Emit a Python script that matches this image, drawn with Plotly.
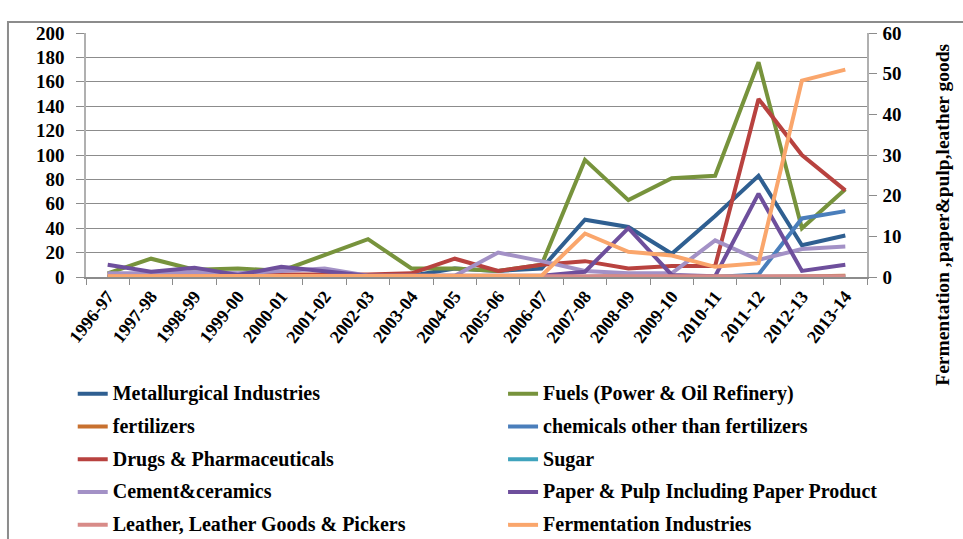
import plotly.graph_objects as go

# Financial years on the category axis
years = ["1996-97", "1997-98", "1998-99", "1999-00", "2000-01", "2001-02",
         "2002-03", "2003-04", "2004-05", "2005-06", "2006-07", "2007-08",
         "2008-09", "2009-10", "2010-11", "2011-12", "2012-13", "2013-14"]

# Industries plotted against the left axis
metallurgical = [1, 1, 1, 0.5, 1, 1, 1, 1, 7, 5, 7, 47, 41, 19, 50, 83, 26, 34]
fuels = [3, 15, 6, 7, 5, 18, 31, 7, 7, 5, 10, 96, 63, 81, 83, 176, 40, 72]
fertilizers = [0, 0, 0, 0, 0, 0, 0, 0, 0, 0, 0, 0, 1, 0.5, 0, 0, 0.5, 1]
chemicals = [0, 0, 0, 0, 0, 0, 0, 0, 0, 0, 0, 0, 0, 0, 0, 2, 48, 54]
drugs = [2, 2, 2, 2, 2, 2, 2, 3, 15, 5, 10, 13, 7, 9, 9, 146, 100, 71]
sugar = [0.3] * 18
cement = [3, 3, 4, 3, 5, 7, 1, 1, 1, 20, 13, 5, 3, 3, 30, 14, 23, 25]

# Industries plotted against the right axis
paper = [3, 1.3, 2.3, 0.5, 2.5, 1.3, 0.3, 0.3, 0.3, 0.5, 0.3, 1.3, 12, 0.5, 0.2, 20.5, 1.5, 3]
leather = [0.2] * 18
fermentation = [0.2, 0.2, 0.2, 0.2, 0.2, 0.2, 0.2, 0.2, 0.2, 0.2, 0.3, 10.7, 6.2, 5.3, 2.5, 3.4, 48.3, 51]

# name, values, colour, y axis, legend column
series = [
    ("Metallurgical Industries", metallurgical, "#2F5F91", "y", "legend"),
    ("Fuels (Power & Oil Refinery)", fuels, "#77933C", "y", "legend2"),
    ("fertilizers", fertilizers, "#C8712F", "y", "legend"),
    ("chemicals other than fertilizers", chemicals, "#4A7EBB", "y", "legend2"),
    ("Drugs & Pharmaceuticals", drugs, "#B8423F", "y", "legend"),
    ("Sugar", sugar, "#3FA3BD", "y", "legend2"),
    ("Cement&ceramics", cement, "#A391C6", "y", "legend"),
    ("Paper & Pulp Including Paper Product", paper, "#6E4F9C", "y2", "legend2"),
    ("Leather, Leather Goods & Pickers", leather, "#D88B88", "y2", "legend"),
    ("Fermentation Industries", fermentation, "#FAA66C", "y2", "legend2"),
]

fig = go.Figure()
for name, vals, color, axis, leg in series:
    fig.add_trace(go.Scatter(
        x=years, y=vals, mode="lines", yaxis=axis,
        # larger label text inside a compact legend row
        name=f'<span style="font-size:20px">{name}</span>',
        legend=leg, legendgroup=name,
        line=dict(color=color, width=4),
    ))

serif = "Liberation Serif"
grey = "#8C8C8C"
legend_font = dict(family=serif, size=16, color="black", weight="bold")

fig.update_layout(
    width=963, height=539,
    margin=dict(l=86, r=96, t=33, b=262),
    paper_bgcolor="white", plot_bgcolor="white",
    font=dict(family=serif, color="black"),
    showlegend=True,
    legend=dict(
        orientation="v", x=-0.017, xref="paper", y=0.301, yref="container",
        xanchor="left", yanchor="top",
        traceorder="grouped", tracegroupgap=9, font=legend_font,
        bgcolor="rgba(0,0,0,0)",
    ),
    legend2=dict(
        orientation="v", x=0.534, xref="paper", y=0.301, yref="container",
        xanchor="left", yanchor="top",
        traceorder="grouped", tracegroupgap=9, font=legend_font,
        bgcolor="rgba(0,0,0,0)",
    ),
    xaxis=dict(
        type="category", range=[-0.5, 17.5], tickangle=-52,
        tickfont=dict(family=serif, size=18, color="black", weight="bold"),
        showline=True, linecolor=grey, linewidth=1.5,
        ticks="outside", tickson="boundaries", ticklen=6, tickcolor=grey,
        showgrid=False, automargin=False,
    ),
    yaxis=dict(
        range=[0, 200], dtick=20, showgrid=True, gridcolor=grey, gridwidth=1,
        showline=True, linecolor="#B0B0B0", linewidth=1.5,
        ticks="outside", ticklen=8, tickcolor=grey, ticklabelstandoff=8,
        tickfont=dict(family=serif, size=19, color="black", weight="bold"),
        zeroline=False, automargin=False,
    ),
    yaxis2=dict(
        range=[0, 60], dtick=10, overlaying="y", side="right",
        showgrid=False, showline=True, linecolor="#B0B0B0", linewidth=1.5,
        ticks="outside", ticklen=8, tickcolor=grey, ticklabelstandoff=2,
        tickfont=dict(family=serif, size=19, color="black", weight="bold"),
        zeroline=False, automargin=False,
    ),
    annotations=[dict(
        text="Fermentation ,paper&pulp,leather goods",
        xref="paper", yref="paper", x=1.0973, y=0.255,
        xanchor="center", yanchor="middle",
        textangle=-90, showarrow=False,
        font=dict(family=serif, size=19.5, color="black", weight="bold"),
    )],
    shapes=[dict(
        type="rect", xref="paper", yref="paper",
        x0=-0.0999, x1=1.13, y0=-1.09, y1=1.045,
        line=dict(color=grey, width=2), fillcolor="rgba(0,0,0,0)", layer="below",
    )],
)

fig.write_html("out.html")
